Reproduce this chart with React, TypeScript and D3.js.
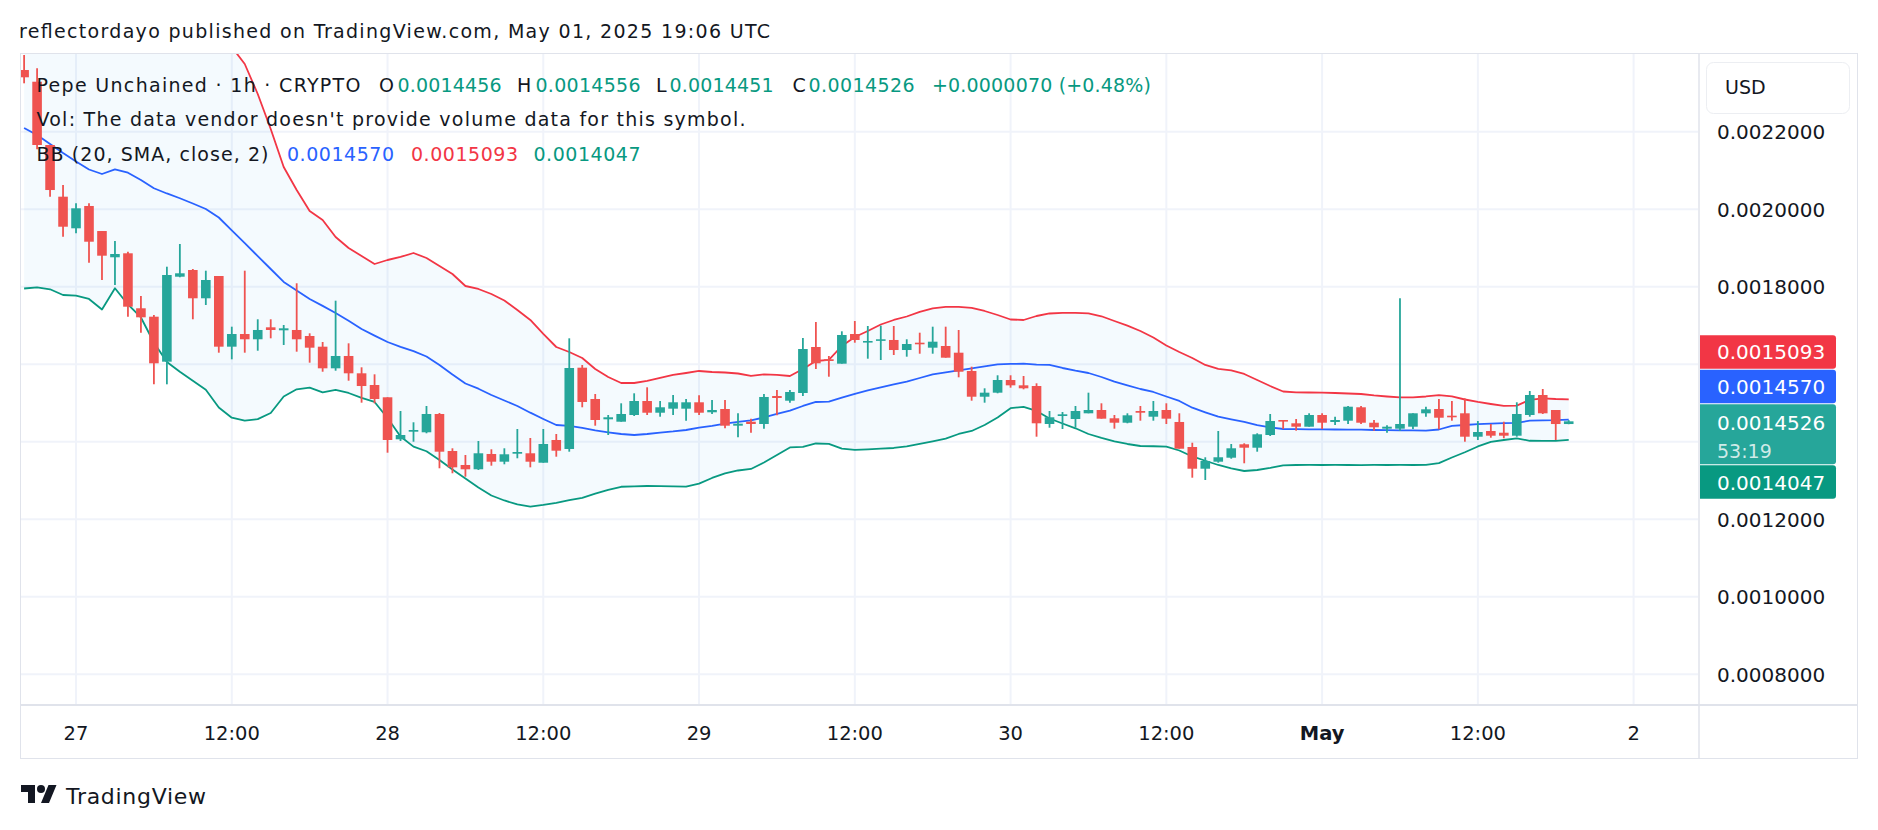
import React, { useEffect, useRef } from "react";
import * as d3 from "d3";

// Pepe Unchained 1h candles, Apr 26 20:00 UTC .. May 01 19:00 UTC
const HOUR = 3600 * 1000;
const firstCandle = Date.UTC(2025, 3, 26, 20);

const opens = [
  0.0023592, 0.0023290, 0.0021657, 0.0020323, 0.0019507, 0.0020083, 0.0019437, 0.0018759, 0.0018862, 0.0017443,
  0.0017226, 0.0016065, 0.0018258, 0.0018431, 0.0017701, 0.0018276, 0.0016452, 0.0016779, 0.0016643, 0.0016952,
  0.0016875, 0.0016883, 0.0016728, 0.0016452, 0.0015894, 0.0016212, 0.0015765, 0.0015463, 0.0015146, 0.0014062,
  0.0014258, 0.0014243, 0.0014715, 0.0013760, 0.0013399, 0.0013288, 0.0013683, 0.0013484, 0.0013690, 0.0013701,
  0.0013458, 0.0014044, 0.0013812, 0.0015910, 0.0015102, 0.0014578, 0.0014516, 0.0014689, 0.0015050, 0.0014748,
  0.0014852, 0.0014852, 0.0015017, 0.0014759, 0.0014844, 0.0014413, 0.0014516, 0.0014457, 0.0015179, 0.0015058,
  0.0015257, 0.0016444, 0.0016127, 0.0016013, 0.0016779, 0.0016565, 0.0016606, 0.0016625, 0.0016366, 0.0016555,
  0.0016426, 0.0016470, 0.0016297, 0.0015825, 0.0015161, 0.0015265, 0.0015592, 0.0015455, 0.0015437, 0.0014457,
  0.0014663, 0.0014586, 0.0014733, 0.0014818, 0.0014604, 0.0014490, 0.0014792, 0.0014645, 0.0014818, 0.0014509,
  0.0013863, 0.0013303, 0.0013484, 0.0013587, 0.0013933, 0.0013845, 0.0014173, 0.0014560, 0.0014475, 0.0014387,
  0.0014689, 0.0014509, 0.0014542, 0.0014888, 0.0014490, 0.0014336, 0.0014336, 0.0014387, 0.0014733, 0.0014844,
  0.0014671, 0.0014733, 0.0014129, 0.0014276, 0.0014232, 0.0014155, 0.0014689, 0.0015205, 0.0014818, 0.0014456,
];

const highs = [
  0.0023979, 0.0023636, 0.0021657, 0.0020624, 0.0020152, 0.0020152, 0.0019437, 0.0019179, 0.0018903, 0.0017760,
  0.0017270, 0.0018516, 0.0019102, 0.0018457, 0.0018413, 0.0018276, 0.0016968, 0.0018413, 0.0017159, 0.0017159,
  0.0017012, 0.0018088, 0.0016797, 0.0016573, 0.0017639, 0.0016539, 0.0015920, 0.0015739, 0.0015146, 0.0014792,
  0.0014501, 0.0014921, 0.0014740, 0.0013830, 0.0013657, 0.0014018, 0.0013804, 0.0013830, 0.0014328, 0.0014096,
  0.0014328, 0.0014199, 0.0016668, 0.0015979, 0.0015231, 0.0014689, 0.0014991, 0.0015249, 0.0015404, 0.0015050,
  0.0015205, 0.0015102, 0.0015198, 0.0015076, 0.0015076, 0.0014733, 0.0014594, 0.0015231, 0.0015334, 0.0015334,
  0.0016676, 0.0017089, 0.0016212, 0.0016849, 0.0017115, 0.0016986, 0.0016994, 0.0016986, 0.0016643, 0.0016813,
  0.0016968, 0.0016968, 0.0016883, 0.0015936, 0.0015378, 0.0015714, 0.0015714, 0.0015696, 0.0015507, 0.0014792,
  0.0014766, 0.0014921, 0.0015265, 0.0014991, 0.0014689, 0.0014733, 0.0014921, 0.0015050, 0.0014991, 0.0014733,
  0.0013974, 0.0013598, 0.0014276, 0.0013941, 0.0013959, 0.0014217, 0.0014715, 0.0014560, 0.0014586, 0.0014733,
  0.0014733, 0.0014645, 0.0014921, 0.0014921, 0.0014560, 0.0014423, 0.0017701, 0.0014733, 0.0014903, 0.0015102,
  0.0015050, 0.0015120, 0.0014534, 0.0014457, 0.0014516, 0.0015017, 0.0015308, 0.0015360, 0.0014818, 0.0014556,
];

const lows = [
  0.0023249, 0.0021546, 0.0020323, 0.0019290, 0.0019378, 0.0018619, 0.0018173, 0.0018044, 0.0017226, 0.0016813,
  0.0015481, 0.0015481, 0.0018243, 0.0017159, 0.0017528, 0.0016297, 0.0016126, 0.0016297, 0.0016348, 0.0016668,
  0.0016496, 0.0016323, 0.0016039, 0.0015806, 0.0015832, 0.0015574, 0.0015007, 0.0014991, 0.0013716, 0.0014018,
  0.0014000, 0.0014217, 0.0013314, 0.0013185, 0.0013097, 0.0013270, 0.0013381, 0.0013417, 0.0013572, 0.0013339,
  0.0013458, 0.0013613, 0.0013742, 0.0014888, 0.0014413, 0.0014173, 0.0014516, 0.0014663, 0.0014689, 0.0014645,
  0.0014689, 0.0014542, 0.0014689, 0.0014715, 0.0014346, 0.0014114, 0.0014232, 0.0014336, 0.0014681, 0.0015007,
  0.0015179, 0.0015876, 0.0015677, 0.0016013, 0.0016555, 0.0016142, 0.0016108, 0.0016237, 0.0016194, 0.0016271,
  0.0016271, 0.0016168, 0.0015662, 0.0015058, 0.0015007, 0.0015249, 0.0015394, 0.0015352, 0.0014129, 0.0014361,
  0.0014328, 0.0014361, 0.0014733, 0.0014594, 0.0014336, 0.0014475, 0.0014542, 0.0014542, 0.0014457, 0.0013819,
  0.0013071, 0.0013012, 0.0013458, 0.0013561, 0.0013443, 0.0013742, 0.0014147, 0.0014328, 0.0014284, 0.0014387,
  0.0014328, 0.0014431, 0.0014457, 0.0014457, 0.0014284, 0.0014232, 0.0014284, 0.0014328, 0.0014645, 0.0014320,
  0.0014542, 0.0014000, 0.0014044, 0.0014103, 0.0014088, 0.0014129, 0.0014645, 0.0014715, 0.0014044, 0.0014451,
];

const closes = [
  0.0023404, 0.0021657, 0.0020495, 0.0019548, 0.0020023, 0.0019161, 0.0018800, 0.0018844, 0.0017484, 0.0017210,
  0.0016023, 0.0018302, 0.0018346, 0.0017701, 0.0018173, 0.0016452, 0.0016779, 0.0016643, 0.0016883, 0.0016883,
  0.0016926, 0.0016643, 0.0016426, 0.0015894, 0.0016212, 0.0015765, 0.0015437, 0.0015102, 0.0014044, 0.0014173,
  0.0014302, 0.0014715, 0.0013742, 0.0013339, 0.0013288, 0.0013701, 0.0013484, 0.0013675, 0.0013734, 0.0013484,
  0.0013941, 0.0013768, 0.0015902, 0.0015025, 0.0014560, 0.0014630, 0.0014715, 0.0015050, 0.0014748, 0.0014888,
  0.0015017, 0.0015017, 0.0014748, 0.0014818, 0.0014413, 0.0014465, 0.0014457, 0.0015154, 0.0015128, 0.0015283,
  0.0016392, 0.0016023, 0.0016083, 0.0016754, 0.0016625, 0.0016599, 0.0016643, 0.0016366, 0.0016521, 0.0016514,
  0.0016581, 0.0016168, 0.0015806, 0.0015161, 0.0015265, 0.0015592, 0.0015455, 0.0015378, 0.0014475, 0.0014630,
  0.0014707, 0.0014792, 0.0014818, 0.0014594, 0.0014490, 0.0014681, 0.0014748, 0.0014792, 0.0014594, 0.0013819,
  0.0013303, 0.0013502, 0.0013598, 0.0013830, 0.0013845, 0.0014191, 0.0014534, 0.0014526, 0.0014387, 0.0014689,
  0.0014490, 0.0014560, 0.0014903, 0.0014490, 0.0014372, 0.0014387, 0.0014457, 0.0014733, 0.0014836, 0.0014619,
  0.0014630, 0.0014129, 0.0014250, 0.0014155, 0.0014155, 0.0014715, 0.0015205, 0.0014733, 0.0014456, 0.0014526,
];

// Bollinger Bands (20, SMA, close, 2)
const bbBasis = [
  0.0022096, 0.0021915, 0.0021683, 0.0021451, 0.0021231, 0.0021025, 0.0020909, 0.0021030, 0.0020942, 0.0020754,
  0.0020540, 0.0020406, 0.0020282, 0.0020148, 0.0020006, 0.0019786, 0.0019451, 0.0019123, 0.0018790, 0.0018457,
  0.0018122, 0.0017902, 0.0017683, 0.0017505, 0.0017322, 0.0017120, 0.0016909, 0.0016738, 0.0016573, 0.0016449,
  0.0016336, 0.0016199, 0.0015980, 0.0015735, 0.0015502, 0.0015368, 0.0015206, 0.0015064, 0.0014922, 0.0014749,
  0.0014586, 0.0014431, 0.0014406, 0.0014354, 0.0014290, 0.0014243, 0.0014199, 0.0014173, 0.0014199, 0.0014235,
  0.0014264, 0.0014302, 0.0014362, 0.0014406, 0.0014465, 0.0014509, 0.0014553, 0.0014625, 0.0014715, 0.0014800,
  0.0014922, 0.0015025, 0.0015033, 0.0015136, 0.0015237, 0.0015322, 0.0015404, 0.0015477, 0.0015549, 0.0015644,
  0.0015737, 0.0015791, 0.0015843, 0.0015895, 0.0015946, 0.0015995, 0.0016006, 0.0016013, 0.0015988, 0.0015980,
  0.0015902, 0.0015833, 0.0015773, 0.0015670, 0.0015549, 0.0015451, 0.0015360, 0.0015283, 0.0015167, 0.0015051,
  0.0014878, 0.0014759, 0.0014648, 0.0014578, 0.0014514, 0.0014426, 0.0014367, 0.0014328, 0.0014323, 0.0014320,
  0.0014320, 0.0014315, 0.0014313, 0.0014310, 0.0014302, 0.0014297, 0.0014292, 0.0014290, 0.0014284, 0.0014315,
  0.0014406, 0.0014431, 0.0014455, 0.0014465, 0.0014478, 0.0014488, 0.0014542, 0.0014550, 0.0014555, 0.0014570,
];

// upper band sits above the visible range for the first 16 bars
const bbUpper: (number | null)[] = [
  null, null, null, null, null, null, null, null, null, null, null, null, null, null, null, null,
  0.0024186, 0.0023747, 0.0022973, 0.0022070, 0.0021089, 0.0020496, 0.0019954, 0.0019722, 0.0019283, 0.0018999,
  0.0018793, 0.0018586, 0.0018689, 0.0018767, 0.0018870, 0.0018741, 0.0018535, 0.0018328, 0.0018018, 0.0017941,
  0.0017812, 0.0017644, 0.0017399, 0.0017141, 0.0016780, 0.0016444, 0.0016315, 0.0016160, 0.0015877, 0.0015670,
  0.0015515, 0.0015515, 0.0015567, 0.0015644, 0.0015722, 0.0015773, 0.0015825, 0.0015799, 0.0015786, 0.0015760,
  0.0015696, 0.0015735, 0.0015722, 0.0015696, 0.0015877, 0.0016083, 0.0016109, 0.0016470, 0.0016702, 0.0016857,
  0.0017025, 0.0017141, 0.0017231, 0.0017348, 0.0017438, 0.0017477, 0.0017477, 0.0017451, 0.0017373, 0.0017270,
  0.0017154, 0.0017141, 0.0017244, 0.0017309, 0.0017322, 0.0017322, 0.0017314, 0.0017237, 0.0017115, 0.0016994,
  0.0016857, 0.0016689, 0.0016483, 0.0016315, 0.0016160, 0.0015980, 0.0015877, 0.0015838, 0.0015748, 0.0015593,
  0.0015438, 0.0015296, 0.0015275, 0.0015270, 0.0015265, 0.0015257, 0.0015244, 0.0015231, 0.0015193, 0.0015167,
  0.0015146, 0.0015146, 0.0015167, 0.0015200, 0.0015167, 0.0015089, 0.0015025, 0.0014973, 0.0014922, 0.0014930,
  0.0015082, 0.0015120, 0.0015102, 0.0015093,
];

const bbLower = [
  0.0017954, 0.0017985, 0.0017933, 0.0017786, 0.0017768, 0.0017683, 0.0017412, 0.0017959, 0.0017541, 0.0017206,
  0.0016560, 0.0016057, 0.0015807, 0.0015572, 0.0015342, 0.0014883, 0.0014620, 0.0014542, 0.0014581, 0.0014741,
  0.0015167, 0.0015353, 0.0015394, 0.0015275, 0.0015335, 0.0015257, 0.0015133, 0.0015025, 0.0014612, 0.0014135,
  0.0013872, 0.0013753, 0.0013528, 0.0013283, 0.0013051, 0.0012819, 0.0012612, 0.0012483, 0.0012380, 0.0012326,
  0.0012367, 0.0012424, 0.0012491, 0.0012553, 0.0012659, 0.0012754, 0.0012837, 0.0012847, 0.0012857, 0.0012852,
  0.0012847, 0.0012839, 0.0012919, 0.0013064, 0.0013180, 0.0013257, 0.0013296, 0.0013464, 0.0013657, 0.0013851,
  0.0013864, 0.0013954, 0.0013946, 0.0013820, 0.0013791, 0.0013804, 0.0013822, 0.0013838, 0.0013877, 0.0013941,
  0.0014011, 0.0014080, 0.0014199, 0.0014277, 0.0014431, 0.0014625, 0.0014865, 0.0014901, 0.0014793, 0.0014599,
  0.0014470, 0.0014346, 0.0014199, 0.0014096, 0.0014006, 0.0013941, 0.0013889, 0.0013882, 0.0013874, 0.0013773,
  0.0013619, 0.0013508, 0.0013399, 0.0013309, 0.0013244, 0.0013270, 0.0013322, 0.0013391, 0.0013399, 0.0013401,
  0.0013399, 0.0013402, 0.0013399, 0.0013398, 0.0013401, 0.0013399, 0.0013400, 0.0013399, 0.0013402, 0.0013446,
  0.0013593, 0.0013727, 0.0013877, 0.0013993, 0.0014044, 0.0014086, 0.0014024, 0.0014019, 0.0014019, 0.0014047,
];

const timeTicks = [
  Date.UTC(2025, 3, 27, 0), Date.UTC(2025, 3, 27, 12), Date.UTC(2025, 3, 28, 0), Date.UTC(2025, 3, 28, 12),
  Date.UTC(2025, 3, 29, 0), Date.UTC(2025, 3, 29, 12), Date.UTC(2025, 3, 30, 0), Date.UTC(2025, 3, 30, 12),
  Date.UTC(2025, 4, 1, 0), Date.UTC(2025, 4, 1, 12), Date.UTC(2025, 4, 2, 0),
];
const timeTickLabels = ["27", "12:00", "28", "12:00", "29", "12:00", "30", "12:00", "May", "12:00", "2"];
const priceTicks = [0.0022, 0.002, 0.0018, 0.0016, 0.0014, 0.0012, 0.001, 0.0008];

const barCountdown = "53:19";
const titleText = "reflectordayo published on TradingView.com, May 01, 2025 19:06 UTC";

const FONT = "'DejaVu Sans', Verdana, sans-serif";
const TEXT = "#131722";
const UP = "#26a69a";
const DOWN = "#ef5350";
const BASIS = "#2962ff";
const UPPER = "#f23645";
const LOWER = "#089981";
const BORDER = "#e0e3eb";
const GRID = "#f0f3fa";

export default function App() {
  const ref = useRef<SVGSVGElement>(null);

  useEffect(() => {
    const svg = d3.select(ref.current);
    svg.selectAll("*").remove();

    const plot = { left: 20, right: 1698, top: 54, bottom: 704 };
    const panelRight = 1857;
    const axisBottom = 759;

    const x = d3.scaleUtc()
      .domain([firstCandle - 0.316 * HOUR, firstCandle + 128.96 * HOUR])
      .range([plot.left, plot.right]);
    const y = d3.scaleLinear().domain([0.0008, 0.0022]).range([674.2, 131.7]);

    const bars = opens.map((o, i) => ({
      t: firstCandle + i * HOUR,
      o, h: highs[i], l: lows[i], c: closes[i],
      basis: bbBasis[i], upper: bbUpper[i], lower: bbLower[i],
    }));
    const last = bars[bars.length - 1];

    const text = (px: number, py: number, str: string, opts: any = {}) => {
      const t = svg.append("text")
        .attr("x", px).attr("y", py)
        .attr("font-family", FONT)
        .attr("font-size", opts.size || 19)
        .attr("font-weight", opts.weight || "normal")
        .attr("fill", opts.fill || TEXT)
        .attr("text-anchor", opts.anchor || "start")
        .text(str);
      if (opts.len) t.attr("textLength", opts.len).attr("lengthAdjust", "spacing");
      return t;
    };

    svg.append("rect").attr("width", 1878).attr("height", 830).attr("fill", "#fff");

    text(19, 37.5, titleText, { size: 19, len: 751 });

    svg.append("defs").append("clipPath").attr("id", "plot-clip")
      .append("rect")
      .attr("x", plot.left).attr("y", plot.top)
      .attr("width", plot.right - plot.left).attr("height", plot.bottom - plot.top);

    // grid
    const grid = svg.append("g").attr("clip-path", "url(#plot-clip)");
    grid.selectAll(".hgrid").data(priceTicks).enter().append("line")
      .attr("x1", plot.left).attr("x2", plot.right)
      .attr("y1", (d) => y(d)).attr("y2", (d) => y(d))
      .attr("stroke", GRID).attr("stroke-width", 2);
    grid.selectAll(".vgrid").data(timeTicks.filter((t) => x(t) < plot.right)).enter().append("line")
      .attr("x1", (d) => x(d)).attr("x2", (d) => x(d))
      .attr("y1", plot.top).attr("y2", plot.bottom)
      .attr("stroke", GRID).attr("stroke-width", 2);

    const g = svg.append("g").attr("clip-path", "url(#plot-clip)");

    // band fill
    const band = d3.area<any>()
      .x((d) => x(d.t))
      .y0((d) => y(d.lower))
      .y1((d) => (d.upper == null ? plot.top - 40 : y(d.upper)));
    g.append("path").datum(bars).attr("d", band).attr("fill", "rgba(33,150,243,0.05)");

    const bandLine = (key: string, color: string) => {
      const line = d3.line<any>()
        .defined((d) => d[key] != null)
        .x((d) => x(d.t))
        .y((d) => y(d[key]));
      g.append("path").datum(bars).attr("d", line)
        .attr("fill", "none").attr("stroke", color).attr("stroke-width", 1.8)
        .attr("stroke-linejoin", "round");
    };
    bandLine("upper", UPPER);
    bandLine("basis", BASIS);
    bandLine("lower", LOWER);

    // candles
    const bodyW = 9.6;
    const candle = g.selectAll(".candle").data(bars).enter().append("g");
    candle.append("line")
      .attr("x1", (d) => x(d.t)).attr("x2", (d) => x(d.t))
      .attr("y1", (d) => y(d.h)).attr("y2", (d) => y(d.l))
      .attr("stroke", (d) => (d.c >= d.o ? UP : DOWN))
      .attr("stroke-width", 1.8);
    candle.append("rect")
      .attr("x", (d) => x(d.t) - bodyW / 2)
      .attr("width", bodyW)
      .attr("y", (d) => y(Math.max(d.o, d.c)))
      .attr("height", (d) => Math.max(1.6, Math.abs(y(d.o) - y(d.c))))
      .attr("fill", (d) => (d.c >= d.o ? UP : DOWN));

    // frame
    svg.append("rect")
      .attr("x", plot.left + 0.5).attr("y", plot.top - 0.5)
      .attr("width", panelRight - plot.left).attr("height", axisBottom - plot.top)
      .attr("fill", "none").attr("stroke", BORDER).attr("stroke-width", 1);
    svg.append("line")
      .attr("x1", plot.right + 1).attr("x2", plot.right + 1)
      .attr("y1", plot.top).attr("y2", axisBottom)
      .attr("stroke", BORDER).attr("stroke-width", 1.5);
    svg.append("line")
      .attr("x1", plot.left).attr("x2", panelRight)
      .attr("y1", plot.bottom + 1).attr("y2", plot.bottom + 1)
      .attr("stroke", BORDER).attr("stroke-width", 2);

    // legend
    const fmt = (v: number) => v.toFixed(7);
    const change = last.c - closes[closes.length - 2];
    const pct = (change / closes[closes.length - 2]) * 100;
    const sign = change >= 0 ? "+" : "";
    text(36.5, 92, "Pepe Unchained · 1h · CRYPTO", { len: 324 });
    text(379, 92, "O");
    text(397.5, 92, fmt(last.o), { fill: LOWER, len: 104 });
    text(517, 92, "H");
    text(535.5, 92, fmt(last.h), { fill: LOWER, len: 105 });
    text(656, 92, "L");
    text(669.5, 92, fmt(last.l), { fill: LOWER, len: 104 });
    text(792.5, 92, "C");
    text(808.5, 92, fmt(last.c), { fill: LOWER, len: 106 });
    text(932, 92, `${sign}${fmt(change)} (${sign}${pct.toFixed(2)}%)`, { fill: LOWER, len: 219 });
    text(36.5, 126, "Vol: The data vendor doesn't provide volume data for this symbol.", { len: 709 });
    text(36.5, 160.5, "BB (20, SMA, close, 2)", { len: 232 });
    text(287, 160.5, fmt(last.basis), { fill: BASIS, len: 107 });
    text(411, 160.5, fmt(last.upper as number), { fill: UPPER, len: 107 });
    text(533.5, 160.5, fmt(last.lower), { fill: LOWER, len: 107 });

    // last value tags, stacked around the last price
    const tagX = plot.right + 2;
    const tagW = 136;
    const tagH = 33.5;
    const closeTop = y(last.c) - 17;
    const closeH = 60;
    const basisTop = Math.min(y(last.basis) - tagH / 2, closeTop - 1 - tagH);
    const upperTop = Math.min(y(last.upper as number) - tagH / 2, basisTop - 1 - tagH);
    const lowerTop = Math.max(y(last.lower) - tagH / 2, closeTop + closeH + 1);

    // price scale: ticks that would sit under a tag are skipped
    const tagSpan = [upperTop, lowerTop + tagH];
    priceTicks
      .filter((p) => y(p) < tagSpan[0] - 10 || y(p) > tagSpan[1] + 10)
      .forEach((p) => text(1717, y(p) + 7.3, fmt(p), { size: 20 }));

    svg.append("rect")
      .attr("x", 1706.5).attr("y", 62.5).attr("width", 143).attr("height", 51).attr("rx", 7)
      .attr("fill", "#fff").attr("stroke", "#eceef2");
    text(1725, 93.5, "USD", { size: 19 });

    const tag = (top: number, h: number, color: string) =>
      svg.append("path")
        .attr("d", `M${tagX},${top}H${tagX + tagW - 3}Q${tagX + tagW},${top} ${tagX + tagW},${top + 3}V${top + h - 3}Q${tagX + tagW},${top + h} ${tagX + tagW - 3},${top + h}H${tagX}Z`)
        .attr("fill", color);
    tag(upperTop, tagH, UPPER);
    text(1717, upperTop + 24, fmt(last.upper as number), { size: 20, fill: "#fff" });
    tag(basisTop, tagH, BASIS);
    text(1717, basisTop + 24.5, fmt(last.basis), { size: 20, fill: "#fff" });
    tag(closeTop, closeH, UP);
    text(1717, closeTop + 26, fmt(last.c), { size: 20, fill: "#fff" });
    text(1717, closeTop + 54, barCountdown, { size: 19, fill: "rgba(255,255,255,0.78)" });
    tag(lowerTop, tagH, LOWER);
    text(1717, lowerTop + 24.5, fmt(last.lower), { size: 20, fill: "#fff" });

    // time scale
    timeTicks.forEach((t, i) =>
      text(x(t), 740, timeTickLabels[i], {
        size: 19.5, anchor: "middle", weight: timeTickLabels[i] === "May" ? "bold" : "normal",
      })
    );

    // footer logo
    const logo = svg.append("g").attr("transform", "translate(21,781)").attr("fill", TEXT);
    logo.append("path").attr("d", "M14 22H7V11H0V4h14v18zM28 22h-8l7.5-18h8L28 22z");
    logo.append("circle").attr("cx", 20).attr("cy", 8).attr("r", 4);
    text(66, 804, "TradingView", { size: 22, len: 140 });
  }, []);

  return (
    <svg
      ref={ref}
      width={1878}
      height={830}
      style={{ position: "absolute", left: 0, top: 0, display: "block" }}
    />
  );
}
